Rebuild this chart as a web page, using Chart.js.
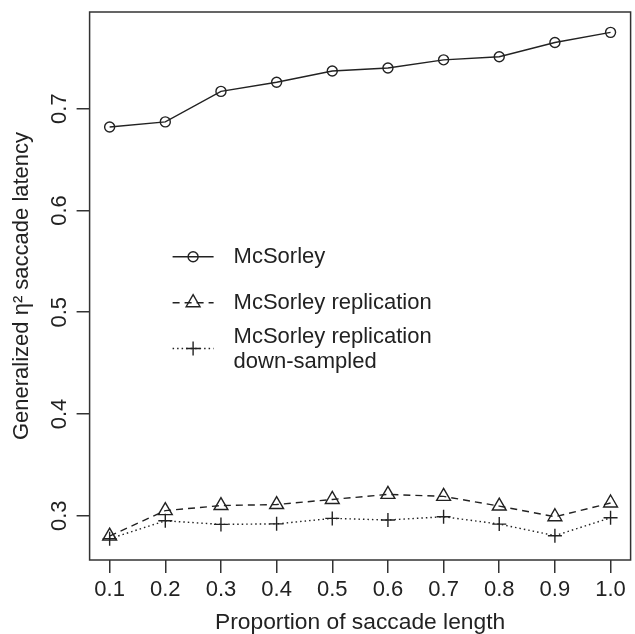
<!DOCTYPE html>
<html>
<head>
<meta charset="utf-8">
<script src="https://cdn.jsdelivr.net/npm/chart.js@4/dist/chart.umd.min.js"></script>
<style>
  html, body { margin: 0; padding: 0; background: #fff; overflow: hidden; }
  #wrap { width: 640px; height: 634px; }
</style>
</head>
<body>
<div id="wrap"><canvas id="chart" width="640" height="634"></canvas></div>
<script>
// Effect size per proportion of saccade length
const proportions = [0.1, 0.2, 0.3, 0.4, 0.5, 0.6, 0.7, 0.8, 0.9, 1.0];
const mcsorley = [0.682, 0.687, 0.717, 0.726, 0.737, 0.740, 0.748, 0.751, 0.765, 0.775];
const replication = [0.280, 0.305, 0.310, 0.311, 0.316, 0.321, 0.319, 0.3095, 0.299, 0.3125];
const downSampled = [0.2774, 0.295, 0.2915, 0.292, 0.2974, 0.2958, 0.299, 0.2918, 0.2804, 0.298];

const xTicks = [0.1, 0.2, 0.3, 0.4, 0.5, 0.6, 0.7, 0.8, 0.9, 1.0];
const yTicks = [0.3, 0.4, 0.5, 0.6, 0.7];

const seriesNames = ['McSorley', 'McSorley replication', ['McSorley replication', 'down-sampled']];

const ink = '#222';
const FONT = '"Liberation Sans", Arial, Helvetica, sans-serif';

function toPoints(values) {
    return proportions.map((p, i) => ({ x: p, y: values[i] }));
}

// R-style box around the plotting region
const boxPlugin = {
    id: 'box',
    afterDraw(chart) {
        const { ctx, chartArea: a } = chart;
        ctx.save();
        ctx.strokeStyle = '#333';
        ctx.lineWidth = 1.5;
        ctx.strokeRect(a.left, a.top, a.right - a.left, a.bottom - a.top);
        ctx.restore();
    }
};

// Vertical y tick labels, reading bottom to top
const yLabelPlugin = {
    id: 'yLabels',
    afterDraw(chart) {
        const { ctx } = chart;
        const scale = chart.scales.y;
        ctx.save();
        ctx.fillStyle = ink;
        ctx.font = '22px ' + FONT;
        ctx.textAlign = 'center';
        ctx.textBaseline = 'middle';
        scale.ticks.forEach(t => {
            const py = scale.getPixelForValue(t.value);
            ctx.save();
            ctx.translate(60, py);
            ctx.rotate(-Math.PI / 2);
            ctx.fillText(t.value.toFixed(1), 0, 0);
            ctx.restore();
        });
        ctx.restore();
    }
};

// Legend with line + marker samples, last entry on two lines
const legendPlugin = {
    id: 'customLegend',
    afterDraw(chart) {
        const { ctx, chartArea: a } = chart;
        const x0 = a.left + 83, x1 = a.left + 124, xm = (x0 + x1) / 2, tx = a.left + 144;
        const rows = [256.7, 302.7, 348.5];
        ctx.save();
        ctx.font = '22px ' + FONT;
        ctx.textBaseline = 'middle';
        chart.data.datasets.forEach((ds, i) => {
            const y = rows[i];
            ctx.save();
            ctx.strokeStyle = ds.borderColor;
            ctx.lineWidth = ds.borderWidth;
            ctx.setLineDash(ds.borderDash || []);
            ctx.beginPath();
            ctx.moveTo(x0, y);
            ctx.lineTo(x1, y);
            ctx.stroke();
            ctx.setLineDash([]);
            ctx.fillStyle = 'rgba(0,0,0,0)';
            ctx.lineWidth = ds.pointBorderWidth;
            Chart.helpers.drawPoint(ctx, {
                pointStyle: ds.pointStyle,
                radius: ds.pointRadius,
                borderWidth: ds.pointBorderWidth,
                rotation: 0
            }, xm, y);
            ctx.restore();
            ctx.fillStyle = ink;
            const name = seriesNames[i];
            if (Array.isArray(name)) {
                ctx.fillText(name[0], tx, y - 12);
                ctx.fillText(name[1], tx, y + 13);
            } else {
                ctx.fillText(name, tx, y);
            }
        });
        ctx.restore();
    }
};

function lineSet(label, values, opts) {
    return Object.assign({
        label: label,
        data: toPoints(values),
        borderColor: ink,
        borderWidth: 1.4,
        pointBorderColor: ink,
        pointBackgroundColor: 'rgba(0,0,0,0)',
        pointBorderWidth: 1.4,
        tension: 0
    }, opts);
}

const ctx = document.getElementById('chart').getContext('2d');
new Chart(ctx, {
    type: 'line',
    data: {
        datasets: [
            lineSet('McSorley', mcsorley, { pointStyle: 'circle', pointRadius: 5 }),
            lineSet('McSorley replication', replication, { pointStyle: 'triangle', pointRadius: 8, borderDash: [7, 5] }),
            lineSet('McSorley replication down-sampled', downSampled, { pointStyle: 'cross', pointRadius: 7, borderDash: [1.5, 3] })
        ]
    },
    options: {
        responsive: false,
        animation: false,
        devicePixelRatio: 1,
        layout: { padding: { top: 12, right: 1.6, left: 0, bottom: 0 } },
        plugins: {
            legend: { display: false },
            tooltip: { enabled: false }
        },
        scales: {
            x: {
                type: 'linear',
                min: 0.064,
                max: 1.036,
                afterBuildTicks: s => { s.ticks = xTicks.map(v => ({ value: v })); },
                afterFit: s => { s.height = 74; },
                border: { display: false },
                grid: { drawOnChartArea: false, tickLength: 13, color: '#333', lineWidth: 1.5 },
                ticks: {
                    color: ink,
                    font: { family: FONT, size: 22 },
                    padding: 4,
                    maxRotation: 0,
                    autoSkip: false,
                    callback: v => Number(v).toFixed(1)
                },
                title: {
                    display: true,
                    text: 'Proportion of saccade length',
                    color: ink,
                    font: { family: FONT, size: 22.8, lineHeight: 1 },
                    padding: { top: 0, bottom: 0 }
                }
            },
            y: {
                type: 'linear',
                min: 0.2565,
                max: 0.795,
                afterBuildTicks: s => { s.ticks = yTicks.map(v => ({ value: v })); },
                afterFit: s => { s.width = 89.6; },
                border: { display: false },
                grid: { drawOnChartArea: false, tickLength: 13, color: '#333', lineWidth: 1.5 },
                ticks: { display: false },
                title: {
                    display: true,
                    text: 'Generalized η² saccade latency',
                    color: ink,
                    font: { family: FONT, size: 22, lineHeight: 1 },
                    padding: { top: 11, bottom: 0 }
                }
            }
        }
    },
    plugins: [boxPlugin, yLabelPlugin, legendPlugin]
});
</script>
</body>
</html>
